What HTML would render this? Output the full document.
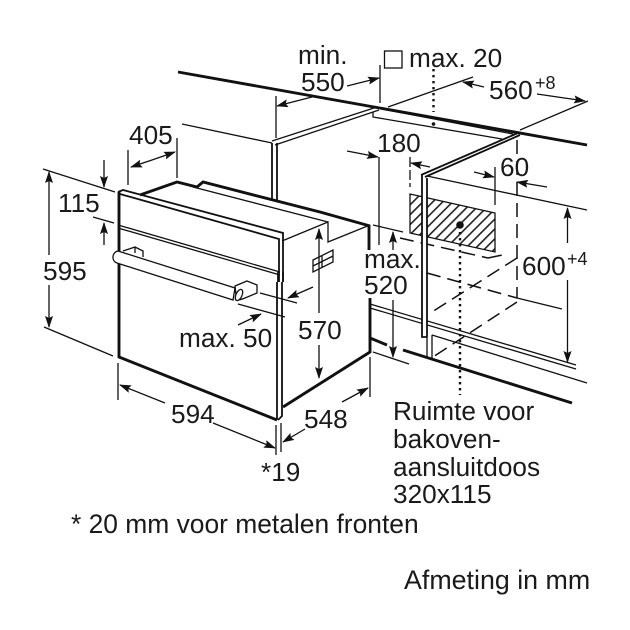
<!DOCTYPE html>
<html><head><meta charset="utf-8"><style>
html,body{margin:0;padding:0;background:#fff}
svg{display:block}
text{font-family:"Liberation Sans",sans-serif;font-size:26.2px;fill:#1a1a1a}
.t{stroke:#111;stroke-width:1.3;fill:none}
.m{stroke:#111;stroke-width:1.8;fill:none}
.b{stroke:#111;stroke-width:2.9;fill:none}
.d{stroke:#111;stroke-width:1.5;fill:none;stroke-dasharray:14 7}
.o{stroke:#111;stroke-width:2.4;fill:none;stroke-dasharray:2.4 3.6}
</style></head><body>
<svg width="630" height="630" viewBox="0 0 630 630" xmlns="http://www.w3.org/2000/svg">
<defs>
<marker id="a" markerWidth="12" markerHeight="8" refX="11" refY="4" orient="auto-start-reverse" markerUnits="userSpaceOnUse"><path d="M0,0L12,4L0,8L2,4Z" fill="#111"/></marker>
<pattern id="h" width="7" height="7" patternUnits="userSpaceOnUse" patternTransform="rotate(45)"><rect width="7" height="7" fill="#fff"/><rect width="1.6" height="7" fill="#222"/></pattern>
</defs>
<!-- worktop -->
<path class="b" d="M178,72L587,145"/>
<path class="t" d="M182,124L272,143"/>
<path class="t" d="M272,141L377,107M275,145L379,110"/>
<path class="m" d="M272,143V200M277,143V202"/>
<path class="t" d="M373,112V117L502,139M387,110L513,134"/>
<path class="t" d="M427,176L587,210"/>
<path class="t" d="M388,107L473,77M520,130L588,101"/>
<!-- dims top -->
<path class="t" d="M276,96V138M380,65V103"/>
<path class="t" marker-end="url(#a)" d="M312,97L277,106"/>
<path class="t" marker-end="url(#a)" d="M347,86L379,78"/>
<path class="t" marker-end="url(#a)" d="M484,87L463,82"/>
<path class="t" marker-end="url(#a)" d="M537,94L585,101"/>
<rect class="t" x="384.500" y="51" width="17.500" height="17"/>
<path class="o" d="M433.500,69V112"/>
<circle cx="433.500" cy="124" r="1.800" fill="#111"/>
<path class="t" marker-end="url(#a)" d="M347,151L378,157"/>
<path class="t" d="M379,157V245"/>
<path class="t" d="M410,157V187" stroke-dasharray="10 3"/>
<path class="t" marker-end="url(#a)" d="M430,167L411,163"/>
<path class="t" marker-end="url(#a)" d="M474,172L494,177"/>
<path class="t" d="M495,167V205"/>
<path class="t" marker-end="url(#a)" d="M547,187L517,182"/>
<path class="d" d="M517,140V298"/>
<!-- hatched box -->
<path d="M410,194L495,213V252L410,233Z" fill="url(#h)" stroke="#111" stroke-width="1.300"/>
<circle cx="460" cy="225" r="3.800" fill="#111"/>
<path class="o" d="M460,232V395"/>
<!-- niche dashed -->
<path class="d" d="M400,238L488,258M488,258L507,254"/>
<path class="d" d="M517,258L432,312"/>
<path class="d" d="M517,302L433,357"/>
<path class="d" d="M427,273L517,298"/>
<path class="t" d="M517,298L562,309"/>
<!-- lower rail -->
<path class="t" d="M370,304L576,365M370,308L576,369"/>
<path class="t" d="M432,335L587,383"/>
<path class="b" d="M370,338L387,345M403,350L572,403"/>
<!-- post -->
<rect x="422" y="176" width="5" height="161" fill="#fff"/>
<path class="m" d="M421,175L518,133M425,177L520,135"/>
<path class="m" d="M422,175V337H427M427,178V337"/>
<path class="t" d="M427,337V357M432,335V358"/>
<path class="b" d="M370,298V353"/>
<path class="t" d="M370,357V397M373,352L409,364"/>
<path class="b" d="M369,225V250"/>
<path class="t" d="M373,225L403,232"/>
<path class="t" marker-end="url(#a)" d="M393,250V232"/>
<path class="t" marker-end="url(#a)" d="M393,300V357"/>
<path class="t" marker-end="url(#a)" d="M567.500,243V208"/>
<path class="t" marker-end="url(#a)" d="M567.500,280V362"/>
<!-- oven -->
<path class="b" d="M140,195L177,182L197,187L203,182L320,212L370,226"/>
<path class="t" d="M177,182L197,187M193,187L328,222"/>
<path class="t" d="M282,241L328,222V242L370,225"/>
<path class="b" d="M119,192V357L277,420"/>
<path class="m" d="M118,192L123,190L283,233V282M120,194L279,239V282"/>
<path class="t" d="M118,225L280,272M118,228L280,275"/>
<path class="m" d="M278,272V282M283,272V282"/>
<path class="m" d="M277,282V420M282,282V416L278,420"/>
<path class="b" d="M283,407L370,352"/>
<!-- handle -->
<path d="M118,251L235,288L233,300L117,263C111,261 112,252 118,251Z" fill="#fff" stroke="#111" stroke-width="1.300"/>
<path class="t" d="M123,251L135,247L143,251V257M135,247V253"/>
<path d="M235,286L247,281L257,285V293L245,298C240,300 235,302 236,295Z" fill="#fff" stroke="#111" stroke-width="1.300"/>
<ellipse cx="239" cy="295" rx="3" ry="6" transform="rotate(25 239 295)" fill="#fff" stroke="#111" stroke-width="1.300"/>
<path class="t" d="M260,293L297,303M238,304L285,317"/>
<path class="t" marker-end="url(#a)" d="M313,287L288,298"/>
<path class="t" marker-end="url(#a)" d="M238,325L261,314"/>
<path class="t" d="M313,260L333,250V262L313,272ZM313,266L333,256M322,256V268"/>
<!-- dims left -->
<path class="t" d="M43,169L115,192M44,327L113,356"/>
<path class="t" marker-end="url(#a)" d="M49,255V172"/>
<path class="t" marker-end="url(#a)" d="M49,285V327"/>
<path class="t" marker-end="url(#a)" d="M104,160V187"/>
<path class="t" d="M93,217L114,223"/>
<path class="t" marker-end="url(#a)" d="M104,245V223"/>
<path class="t" d="M128,150V185M177,138V178"/>
<path class="t" marker-end="url(#a)" d="M152,160L131,167"/>
<path class="t" marker-end="url(#a)" d="M152,160L175,152"/>
<path class="t" marker-end="url(#a)" d="M319,313V229"/>
<path class="t" marker-end="url(#a)" d="M319,345V378"/>
<path class="t" d="M118,363V400M276,425V455M281,423V452"/>
<path class="t" marker-end="url(#a)" d="M165,403L120,385"/>
<path class="t" marker-end="url(#a)" d="M213,423L275,448"/>
<path class="t" marker-end="url(#a)" d="M305,429L283,442"/>
<path class="t" marker-end="url(#a)" d="M342,402L368,388"/>
<!-- labels -->
<text x="298" y="64">min.</text>
<text x="301" y="91">550</text>
<text x="409" y="67">max. 20</text>
<text x="489" y="99">560</text>
<text x="535" y="89" style="font-size:18px">+8</text>
<text x="377" y="152">180</text>
<text x="500" y="176">60</text>
<text x="129" y="144">405</text>
<text x="58" y="212">115</text>
<text x="43" y="280">595</text>
<text x="522" y="275">600</text>
<text x="567" y="265" style="font-size:18px">+4</text>
<text x="364" y="268">max.</text>
<text x="364" y="294">520</text>
<text x="179" y="347">max. 50</text>
<text x="298" y="339">570</text>
<text x="171" y="423">594</text>
<text x="304" y="428">548</text>
<text x="261" y="481">*19</text>
<text x="393" y="420">Ruimte voor</text>
<text x="393" y="448">bakoven-</text>
<text x="393" y="476">aansluitdoos</text>
<text x="393" y="503">320x115</text>
<text x="71" y="533" style="font-size:26.4px">* 20 mm voor metalen fronten</text>
<text x="404" y="589" style="font-size:26.8px">Afmeting in mm</text>
</svg>
</body></html>
